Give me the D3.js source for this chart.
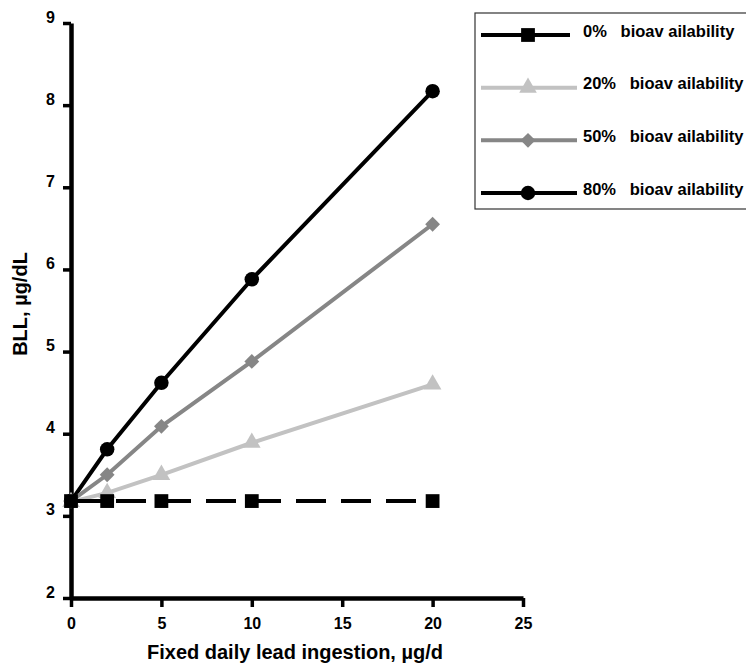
<!DOCTYPE html>
<html>
<head>
<meta charset="utf-8">
<script src="https://cdn.jsdelivr.net/npm/d3@7"></script>
<style>
  body { margin: 0; background: #fff; }
  svg text { font-family: "Liberation Sans", Arial, sans-serif; font-weight: bold; }
</style>
</head>
<body>
<svg id="chart" width="746" height="665"></svg>
<script>
// data
var doses = [0, 2, 5, 10, 20];
var seriesNames = ["0%   bioav ailability", "20%   bioav ailability", "50%   bioav ailability", "80%   bioav ailability"];
var bll0 = [3.18, 3.18, 3.18, 3.18, 3.18];
var bll20 = [3.17, 3.28, 3.5, 3.89, 4.6];
var bll50 = [3.18, 3.5, 4.09, 4.88, 6.55];
var bll80 = [3.18, 3.81, 4.62, 5.88, 8.17];
var xTicks = [0, 5, 10, 15, 20, 25];
var yTicks = [2, 3, 4, 5, 6, 7, 8, 9];

// diamond = square turned 45 degrees
var series = [
  { name: seriesNames[3], values: bll80, color: "#000", symbol: d3.symbolCircle, size: 165, rot: 0, dash: null },
  { name: seriesNames[2], values: bll50, color: "#868686", symbol: d3.symbolSquare, size: 110, rot: 45, dash: null },
  { name: seriesNames[1], values: bll20, color: "#c2c2c2", symbol: d3.symbolTriangle, size: 135, rot: 0, dash: null },
  { name: seriesNames[0], values: bll0, color: "#000", symbol: d3.symbolSquare, size: 190, rot: 0, dash: "30,15" }
];

var svg = d3.select("#chart");

var x = d3.scaleLinear().domain([0, 25]).range([71, 523]);
var y = d3.scaleLinear().domain([2, 9]).range([598, 23]);

// axes
var xAxis = svg.append("g")
  .attr("transform", `translate(0,${y(2)})`)
  .call(d3.axisBottom(x).tickValues(xTicks).tickFormat(d3.format("d")).tickSize(9).tickSizeOuter(0).tickPadding(11));
var yAxis = svg.append("g")
  .attr("transform", `translate(${x(0)},0)`)
  .call(d3.axisLeft(y).tickValues(yTicks).tickFormat(d3.format("d")).tickSize(8).tickSizeOuter(0).tickPadding(8));

[xAxis, yAxis].forEach(function(ax) {
  ax.select(".domain").style("stroke", "#000").style("stroke-width", "4.5px");
  ax.selectAll(".tick line").style("stroke", "#000").style("stroke-width", "3.5px");
  ax.selectAll(".tick text").attr("fill", "#000").style("font-size", "16px");
});
// the printed y labels sit a little above their ticks
yAxis.selectAll(".tick text").attr("y", -6);

// axis titles
svg.append("text")
  .attr("x", 295).attr("y", 659)
  .attr("text-anchor", "middle")
  .style("font-size", "20px")
  .text("Fixed daily lead ingestion, µg/d");
svg.append("text")
  .attr("transform", "translate(27,304) rotate(-90)")
  .attr("text-anchor", "middle")
  .style("font-size", "20px")
  .text("BLL, µg/dL");

// lines and markers
var line = d3.line().x((d, i) => x(doses[i])).y(d => y(d));

series.forEach(function(s) {
  svg.append("path")
    .datum(s.values)
    .attr("d", line)
    .attr("fill", "none")
    .attr("stroke", s.color)
    .attr("stroke-width", 4)
    .attr("stroke-dasharray", s.dash);
  svg.selectAll(null)
    .data(s.values)
    .enter()
    .append("path")
    .attr("d", d3.symbol().type(s.symbol).size(s.size))
    .attr("transform", (d, i) => `translate(${x(doses[i])},${y(d)}) rotate(${s.rot})`)
    .attr("fill", s.color);
});

// legend
var legend = svg.append("g");
legend.append("rect")
  .attr("x", 475).attr("y", 13)
  .attr("width", 290).attr("height", 196)
  .attr("fill", "#fff")
  .attr("stroke", "#333")
  .attr("stroke-width", 1.2);

var legendOrder = [series[3], series[2], series[1], series[0]];
var legendY = d3.scalePoint().domain(d3.range(4)).range([35, 193]);

legendOrder.forEach(function(s, i) {
  var ly = legendY(i);
  legend.append("line")
    .attr("x1", 481).attr("x2", i === 0 ? 570 : 577)
    .attr("y1", ly).attr("y2", ly)
    .attr("stroke", s.color)
    .attr("stroke-width", 4);
  legend.append("path")
    .attr("d", d3.symbol().type(s.symbol).size(s.size))
    .attr("transform", `translate(528,${ly}) rotate(${s.rot})`)
    .attr("fill", s.color);
  legend.append("text")
    .attr("x", 583)
    .attr("y", ly - 4)
    .attr("dy", "0.35em")
    .style("font-size", "16.5px")
    .style("white-space", "pre")
    .attr("xml:space", "preserve")
    .text(s.name);
});
</script>
</body>
</html>
